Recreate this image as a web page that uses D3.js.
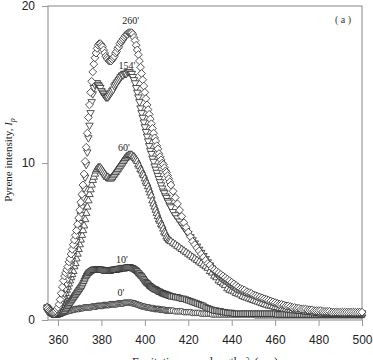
<!DOCTYPE html>
<html>
<head>
<meta charset="utf-8">
<script src="https://cdn.jsdelivr.net/npm/d3@7"></script>
<style>
  body { margin: 0; background: #fff; }
</style>
</head>
<body>
<div id="chart"></div>
<script>
// wavelength grid of the scans (0.5 nm steps up to 412, then 1 nm)
var wavelengths = d3.range(355, 412.5, 0.5).concat(d3.range(413, 501, 1));

// pyrene intensity, one array per sampling time
var i260 = [
  0.8, 0.7, 0.6, 0.55, 0.5, 0.5, 0.5, 0.55, 0.6, 0.7,
  0.8, 1.0, 1.3, 1.7, 2.1, 2.5, 2.8, 3.0, 3.2, 3.4,
  3.7, 3.9, 4.2, 4.5, 4.8, 5.1, 5.4, 5.7, 6.1, 6.5,
  7.0, 7.5, 8.0, 8.6, 9.3, 10.1, 11.0, 11.9, 12.9, 13.7,
  14.5, 15.2, 15.8, 16.3, 16.7, 17.0, 17.3, 17.5, 17.6, 17.6,
  17.5, 17.4, 17.2, 17.0, 16.8, 16.7, 16.6, 16.5, 16.5, 16.5,
  16.6, 16.7, 16.8, 17.0, 17.1, 17.3, 17.4, 17.6, 17.7, 17.8,
  17.9, 18.0, 18.1, 18.2, 18.2, 18.3, 18.3, 18.3, 18.3, 18.2,
  18.0, 17.8, 17.5, 17.2, 16.9, 16.5, 16.1, 15.7, 15.3, 14.9,
  14.5, 14.1, 13.7, 13.4, 13.1, 12.8, 12.5, 12.2, 11.9, 11.6,
  11.4, 11.1, 10.9, 10.6, 10.4, 10.2, 10.0, 9.9, 9.7, 9.5,
  9.4, 9.2, 9.0, 8.8, 8.6,
  8.2, 7.8, 7.4, 7.0, 6.6, 6.2, 5.9, 5.6,
  5.3, 5.0, 4.8, 4.6, 4.4, 4.2, 4.0, 3.8, 3.6, 3.5,
  3.3, 3.2, 3.1, 3.0, 2.9, 2.8, 2.7, 2.6, 2.5, 2.4,
  2.3, 2.2, 2.1, 2.0, 1.95, 1.9, 1.8, 1.75, 1.7, 1.6,
  1.55, 1.5, 1.45, 1.4, 1.35, 1.3, 1.25, 1.2, 1.15, 1.1,
  1.05, 1.0, 1.0, 0.95, 0.9, 0.9, 0.85, 0.8, 0.8, 0.75,
  0.75, 0.7, 0.7, 0.7, 0.65, 0.65, 0.65, 0.6, 0.6, 0.6,
  0.6, 0.55, 0.55, 0.55, 0.55, 0.5, 0.5, 0.5, 0.5, 0.5,
  0.5, 0.5, 0.5, 0.5, 0.5, 0.5, 0.5, 0.5, 0.5, 0.5
];
var i154 = [
  0.8, 0.7, 0.6, 0.5, 0.45, 0.4, 0.4, 0.4, 0.45, 0.5,
  0.6, 0.7, 0.85, 1.0, 1.2, 1.4, 1.7, 2.0, 2.3, 2.6,
  2.9, 3.2, 3.5, 3.8, 4.1, 4.4, 4.7, 5.0, 5.4, 5.8,
  6.2, 6.7, 7.2, 7.8, 8.4, 9.1, 9.9, 10.7, 11.6, 12.4,
  13.2, 13.9, 14.4, 14.8, 15.0, 15.1, 15.1, 15.0, 14.9, 14.8,
  14.6, 14.5, 14.4, 14.3, 14.2, 14.2, 14.2, 14.3, 14.4, 14.5,
  14.6, 14.7, 14.9, 15.0, 15.1, 15.2, 15.3, 15.4, 15.5, 15.6,
  15.6, 15.7, 15.7, 15.7, 15.8, 15.8, 15.8, 15.7, 15.7, 15.5,
  15.3, 15.1, 14.8, 14.5, 14.2, 13.9, 13.5, 13.2, 12.9, 12.6,
  12.3, 12.0, 11.7, 11.4, 11.1, 10.8, 10.6, 10.3, 10.1, 9.8,
  9.6, 9.4, 9.2, 9.0, 8.8, 8.6, 8.4, 8.2, 8.1, 7.9,
  7.8, 7.6, 7.5, 7.3, 7.2,
  6.9, 6.7, 6.5, 6.3, 6.1, 5.9, 5.7, 5.5,
  5.3, 5.1, 4.9, 4.7, 4.5, 4.3, 4.1, 3.9, 3.7, 3.5,
  3.3, 3.1, 2.95, 2.8, 2.7, 2.6, 2.5, 2.4, 2.3, 2.2,
  2.1, 2.0, 1.95, 1.9, 1.85, 1.8, 1.75, 1.7, 1.65, 1.6,
  1.55, 1.5, 1.45, 1.4, 1.35, 1.3, 1.25, 1.2, 1.15, 1.1,
  1.05, 1.0, 1.0, 0.95, 0.9, 0.9, 0.85, 0.8, 0.8, 0.75,
  0.75, 0.7, 0.7, 0.7, 0.65, 0.65, 0.65, 0.6, 0.6, 0.6,
  0.6, 0.55, 0.55, 0.55, 0.55, 0.5, 0.5, 0.5, 0.5, 0.5,
  0.45, 0.45, 0.45, 0.45, 0.45, 0.45, 0.45, 0.45, 0.45, 0.45
];
var i60 = [
  0.8, 0.7, 0.6, 0.5, 0.45, 0.4, 0.4, 0.4, 0.45, 0.5,
  0.6, 0.7, 0.8, 0.95, 1.1, 1.3, 1.5, 1.7, 1.9, 2.1,
  2.3, 2.5, 2.7, 2.9, 3.1, 3.4, 3.6, 3.9, 4.2, 4.5,
  4.8, 5.1, 5.4, 5.7, 6.0, 6.4, 6.8, 7.2, 7.6, 8.0,
  8.3, 8.6, 8.9, 9.1, 9.3, 9.5, 9.6, 9.7, 9.7, 9.7,
  9.6, 9.5, 9.4, 9.3, 9.2, 9.1, 9.1, 9.0, 9.0, 9.0,
  9.1, 9.2, 9.3, 9.4, 9.5, 9.6, 9.7, 9.8, 9.9, 10.0,
  10.1, 10.2, 10.3, 10.4, 10.4, 10.5, 10.5, 10.5, 10.5, 10.4,
  10.4, 10.3, 10.2, 10.1, 9.9, 9.8, 9.6, 9.5, 9.3, 9.2,
  9.0, 8.8, 8.7, 8.5, 8.3, 8.1, 7.9, 7.6, 7.4, 7.2,
  7.0, 6.8, 6.6, 6.4, 6.3, 6.1, 6.0, 5.8, 5.6, 5.5,
  5.3, 5.2, 5.1, 5.05, 5.0,
  4.9, 4.8, 4.7, 4.6, 4.5, 4.4, 4.3, 4.2,
  4.1, 4.0, 3.9, 3.8, 3.7, 3.6, 3.5, 3.4, 3.3, 3.1,
  3.0, 2.8, 2.7, 2.5, 2.4, 2.3, 2.2, 2.0, 1.9, 1.85,
  1.8, 1.7, 1.65, 1.6, 1.5, 1.45, 1.4, 1.35, 1.3, 1.25,
  1.2, 1.15, 1.1, 1.05, 1.0, 0.95, 0.9, 0.9, 0.85, 0.8,
  0.8, 0.75, 0.75, 0.7, 0.7, 0.65, 0.65, 0.6, 0.6, 0.6,
  0.55, 0.55, 0.55, 0.5, 0.5, 0.5, 0.5, 0.45, 0.45, 0.45,
  0.4, 0.4, 0.4, 0.4, 0.4, 0.4, 0.4, 0.4, 0.4, 0.4,
  0.4, 0.4, 0.4, 0.4, 0.4, 0.4, 0.4, 0.4, 0.4, 0.4
];
var i10 = [
  0.8, 0.7, 0.6, 0.5, 0.45, 0.4, 0.35, 0.35, 0.35, 0.35,
  0.35, 0.4, 0.4, 0.45, 0.5, 0.55, 0.6, 0.7, 0.8, 0.9,
  1.0, 1.1, 1.2, 1.3, 1.4, 1.5, 1.6, 1.7, 1.8, 1.9,
  2.0, 2.1, 2.2, 2.35, 2.5, 2.65, 2.8, 2.9, 3.0, 3.05,
  3.1, 3.15, 3.2, 3.2, 3.2, 3.2, 3.2, 3.2, 3.2, 3.2,
  3.2, 3.2, 3.15, 3.15, 3.15, 3.15, 3.15, 3.15, 3.15, 3.15,
  3.2, 3.2, 3.2, 3.2, 3.2, 3.25, 3.25, 3.25, 3.3, 3.3,
  3.3, 3.3, 3.3, 3.35, 3.35, 3.35, 3.35, 3.35, 3.3, 3.3,
  3.25, 3.2, 3.15, 3.1, 3.0, 2.95, 2.85, 2.8, 2.7, 2.6,
  2.5, 2.4, 2.35, 2.3, 2.2, 2.15, 2.1, 2.05, 2.0, 1.95,
  1.95, 1.9, 1.85, 1.8, 1.8, 1.75, 1.7, 1.7, 1.65, 1.65,
  1.6, 1.6, 1.55, 1.55, 1.5,
  1.5, 1.45, 1.45, 1.4, 1.35, 1.35, 1.3, 1.25,
  1.2, 1.15, 1.1, 1.05, 1.0, 0.95, 0.9, 0.8, 0.75, 0.7,
  0.65, 0.6, 0.6, 0.55, 0.55, 0.5, 0.5, 0.45, 0.45, 0.45,
  0.4, 0.4, 0.4, 0.4, 0.4, 0.4, 0.4, 0.4, 0.4, 0.4,
  0.4, 0.4, 0.4, 0.4, 0.4, 0.4, 0.4, 0.4, 0.4, 0.4,
  0.35, 0.35, 0.35, 0.35, 0.35, 0.35, 0.35, 0.35, 0.35, 0.35,
  0.35, 0.35, 0.35, 0.35, 0.35, 0.35, 0.35, 0.35, 0.35, 0.35,
  0.35, 0.35, 0.35, 0.35, 0.35, 0.35, 0.35, 0.35, 0.35, 0.35,
  0.35, 0.35, 0.35, 0.35, 0.35, 0.35, 0.35, 0.35, 0.35, 0.35
];
var i0 = [
  0.8, 0.7, 0.65, 0.6, 0.55, 0.5, 0.5, 0.45, 0.45, 0.45,
  0.45, 0.45, 0.45, 0.45, 0.45, 0.5, 0.5, 0.5, 0.55, 0.55,
  0.6, 0.6, 0.6, 0.65, 0.65, 0.65, 0.7, 0.7, 0.7, 0.7,
  0.75, 0.75, 0.75, 0.75, 0.8, 0.8, 0.8, 0.8, 0.8, 0.8,
  0.8, 0.85, 0.85, 0.85, 0.85, 0.85, 0.9, 0.9, 0.9, 0.9,
  0.9, 0.9, 0.95, 0.95, 0.95, 0.95, 0.95, 0.95, 1.0, 1.0,
  1.0, 1.0, 1.0, 1.0, 1.0, 1.05, 1.05, 1.05, 1.05, 1.05,
  1.05, 1.1, 1.1, 1.1, 1.1, 1.1, 1.1, 1.1, 1.1, 1.05,
  1.05, 1.05, 1.0, 1.0, 0.95, 0.95, 0.9, 0.9, 0.85, 0.85,
  0.85, 0.8, 0.8, 0.8, 0.8, 0.75, 0.75, 0.75, 0.75, 0.7,
  0.7, 0.7, 0.7, 0.7, 0.65, 0.65, 0.65, 0.65, 0.65, 0.6,
  0.6, 0.6, 0.6, 0.6, 0.6,
  0.6, 0.55, 0.55, 0.55, 0.55, 0.5, 0.5, 0.5,
  0.5, 0.45, 0.45, 0.45, 0.45, 0.4, 0.4, 0.4, 0.4, 0.4,
  0.35, 0.35, 0.35, 0.35, 0.35, 0.35, 0.35, 0.35, 0.35, 0.35,
  0.35, 0.35, 0.35, 0.35, 0.35, 0.35, 0.35, 0.35, 0.35, 0.35,
  0.3, 0.3, 0.3, 0.3, 0.3, 0.3, 0.3, 0.3, 0.3, 0.3,
  0.3, 0.3, 0.3, 0.3, 0.3, 0.3, 0.3, 0.3, 0.3, 0.3,
  0.3, 0.3, 0.3, 0.3, 0.3, 0.3, 0.3, 0.3, 0.3, 0.3,
  0.3, 0.3, 0.3, 0.3, 0.3, 0.3, 0.3, 0.3, 0.3, 0.3,
  0.3, 0.3, 0.3, 0.3, 0.3, 0.3, 0.3, 0.3, 0.3, 0.3
];

var seriesNames = ["0'", "10'", "60'", "154'", "260'"];
var seriesValues = [i0, i10, i60, i154, i260];
var seriesMarker = ["circle", "square", "triUp", "triDown", "diamond"];

// where each time label sits (wavelength, intensity)
var labelWl = [389, 389.4, 390.3, 391.7, 393.5];
var labelVal = [1.55, 3.6, 10.75, 16.0, 18.85];

var xTicks = [360, 380, 400, 420, 440, 460, 480, 500];
var yTicks = [0, 10, 20];

seriesValues.forEach(function(arr, k) {
  if (arr.length !== wavelengths.length) throw new Error(seriesNames[k] + " has " + arr.length + " values, expected " + wavelengths.length);
});

var svgWidth = 373;
var svgHeight = 360;

var svg = d3.select("#chart")
  .append("svg")
    .attr("width", svgWidth)
    .attr("height", svgHeight)
    .style("display", "block");

var x = d3.scaleLinear().domain([355.4, 500]).range([48, 362]);
var y = d3.scaleLinear().domain([0, 20]).range([320, 6]);

var axisColor = "#999";

// axes
var xAxis = svg.append("g")
  .attr("transform", "translate(0," + y(0) + ")")
  .call(d3.axisBottom(x).tickValues(xTicks).tickSize(6).tickSizeOuter(0).tickPadding(9));
var yAxis = svg.append("g")
  .attr("transform", "translate(" + x.range()[0] + ",0)")
  .call(d3.axisLeft(y).tickValues(yTicks).tickSize(6).tickSizeOuter(0).tickPadding(7));

[xAxis, yAxis].forEach(function(g) {
  g.select(".domain").remove();
  g.selectAll("line").attr("stroke", axisColor);
  g.selectAll("text")
    .attr("fill", "#222")
    .style("font-family", "'Liberation Sans', Arial, sans-serif")
    .style("font-size", "12px");
});

// frame around the plot
svg.append("rect")
  .attr("x", x.range()[0])
  .attr("y", y.range()[1])
  .attr("width", x.range()[1] - x.range()[0])
  .attr("height", y.range()[0] - y.range()[1])
  .attr("fill", "none")
  .attr("stroke", axisColor)
  .attr("stroke-width", 1.2);

// marker shapes
function markerPath(kind) {
  if (kind === "diamond") return "M0,-3.9L3.9,0L0,3.9L-3.9,0Z";
  if (kind === "triUp") return d3.symbol(d3.symbolTriangle, 24)();
  if (kind === "triDown") return d3.symbol(d3.symbolTriangle, 24)();
  if (kind === "square") return d3.symbol(d3.symbolSquare, 30)();
  return d3.symbol(d3.symbolCircle, 26)();
}

seriesValues.forEach(function(vals, k) {
  var kind = seriesMarker[k];
  var pts = wavelengths.map(function(w, i) { return [w, vals[i]]; });
  svg.append("g")
    .attr("class", "series")
    .selectAll("path")
    .data(pts)
    .enter()
    .append("path")
      .attr("d", markerPath(kind))
      .attr("transform", function(d) {
        var t = "translate(" + x(d[0]) + "," + y(d[1]) + ")";
        if (kind === "triDown") t += " rotate(180)";
        return t;
      })
      .attr("fill", kind === "square" ? "#c8c8c8" : "#fff")
      .attr("stroke", "#2a2a2a")
      .attr("stroke-width", 0.8);
});

// time labels
svg.selectAll(".tlabel")
  .data(seriesNames)
  .enter()
  .append("text")
    .attr("class", "tlabel")
    .attr("x", function(d, i) { return x(labelWl[i]); })
    .attr("y", function(d, i) { return y(labelVal[i]); })
    .attr("text-anchor", "middle")
    .attr("fill", "#222")
    .style("font-family", "'Liberation Serif', 'Times New Roman', serif")
    .style("font-size", "10px")
    .text(function(d) { return d; });

svg.append("text")
  .attr("x", 343)
  .attr("y", 23)
  .attr("text-anchor", "middle")
  .attr("fill", "#333")
  .style("font-family", "'Liberation Serif', 'Times New Roman', serif")
  .style("font-size", "10px")
  .text("( a )");

// axis titles
var yTitle = svg.append("text")
  .attr("transform", "translate(12,160) rotate(-90)")
  .attr("text-anchor", "middle")
  .attr("fill", "#222")
  .style("font-family", "'Liberation Serif', 'Times New Roman', serif")
  .style("font-size", "11px");
yTitle.append("tspan").text("Pyrene intensity, ");
yTitle.append("tspan").style("font-style", "italic").text("I");
yTitle.append("tspan").style("font-style", "italic").style("font-size", "8px").attr("dy", 3).text("p");

svg.append("text")
  .attr("x", (x.range()[0] + x.range()[1]) / 2)
  .attr("y", 366)
  .attr("text-anchor", "middle")
  .attr("fill", "#222")
  .style("font-family", "'Liberation Serif', 'Times New Roman', serif")
  .style("font-size", "12px")
  .text("Excitation wavelength, λ (nm)");
</script>
</body>
</html>
